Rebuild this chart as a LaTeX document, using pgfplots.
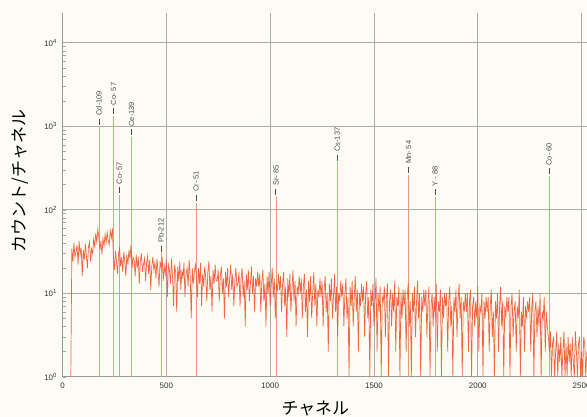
\documentclass[border=0pt]{standalone}
\usepackage{fontspec}
\setmainfont{Liberation Sans}
\newfontfamily\jp{Noto Sans CJK JP}
\usepackage{pgfplots}
\usepackage{pgfplotstable}
\pgfplotsset{compat=1.18}

\definecolor{paper}{HTML}{FCFBF4}
\definecolor{noise}{HTML}{F0552F}
\definecolor{peakc}{HTML}{E99A7C}
\definecolor{gridc}{HTML}{ABABAB}

% peak positions (channel), peak height (counts/channel), nuclide
\pgfplotstableread[col sep=comma]{
x,y,lab
176,1000,Cd-109
246,1330,Co- 57
273,150,Co- 57
333,740,Ce-139
474,30,Pb-212
643,122,Cr- 51
1028,145,Sr- 85
1324,369,Cs-137
1667,263,Mn- 54
1794,142,Y - 88
2343,252,Co- 60
}\peaks

% continuum, one value every 5 channels from channel 40
\pgfplotstableread[row sep=\\]{
c\\ 1\\
34\\ 24\\ 40\\ 27\\ 31\\ 38\\ 22\\ 42\\ 29\\ 35\\ 16\\ 33\\ 25\\ 39\\ 28\\ 20\\ 36\\ 41\\ 24\\ 34\\
30\\ 44\\ 36\\ 52\\ 41\\ 58\\ 47\\ 33\\ 42\\ 29\\ 45\\ 37\\ 50\\ 40\\ 54\\ 43\\ 38\\ 56\\ 46\\ 60\\
28\\ 19\\ 32\\ 24\\ 17\\ 30\\ 35\\ 21\\ 27\\ 18\\ 31\\ 24\\ 16\\ 29\\ 22\\ 33\\ 26\\ 38\\ 20\\ 27\\
25\\ 16\\ 29\\ 20\\ 27\\ 13\\ 24\\ 30\\ 18\\ 22\\ 26\\ 14\\ 23\\ 28\\ 17\\ 25\\ 11\\ 21\\ 27\\ 19\\
23\\ 15\\ 26\\ 18\\ 12\\ 24\\ 20\\ 27\\ 14\\ 21\\ 17\\ 25\\ 9\\ 22\\ 19\\ 13\\ 26\\ 16\\ 7\\ 22\\
18\\ 6\\ 21\\ 14\\ 24\\ 11\\ 19\\ 15\\ 23\\ 9\\ 17\\ 20\\ 12\\ 25\\ 16\\ 5\\ 20\\ 13\\ 18\\ 22\\
16\\ 9\\ 20\\ 13\\ 23\\ 7\\ 17\\ 12\\ 21\\ 15\\ 8\\ 18\\ 24\\ 11\\ 16\\ 6\\ 19\\ 13\\ 22\\ 14\\
14\\ 19\\ 8\\ 16\\ 21\\ 10\\ 15\\ 5\\ 18\\ 12\\ 20\\ 9\\ 15\\ 22\\ 11\\ 17\\ 7\\ 14\\ 20\\ 12\\
13\\ 18\\ 7\\ 15\\ 20\\ 9\\ 14\\ 4\\ 17\\ 11\\ 19\\ 8\\ 13\\ 21\\ 10\\ 16\\ 6\\ 15\\ 12\\ 18\\
12\\ 17\\ 6\\ 14\\ 19\\ 8\\ 13\\ 4\\ 16\\ 10\\ 18\\ 7\\ 12\\ 20\\ 9\\ 15\\ 5\\ 13\\ 11\\ 17\\
11\\ 16\\ 6\\ 13\\ 18\\ 7\\ 12\\ 3\\ 15\\ 9\\ 17\\ 6\\ 11\\ 19\\ 8\\ 14\\ 4\\ 12\\ 10\\ 16\\
10\\ 15\\ 5\\ 12\\ 17\\ 6\\ 11\\ 3\\ 14\\ 8\\ 16\\ 5\\ 10\\ 18\\ 7\\ 13\\ 4\\ 11\\ 9\\ 15\\
9\\ 14\\ 4\\ 11\\ 16\\ 6\\ 10\\ 2\\ 13\\ 8\\ 15\\ 5\\ 9\\ 17\\ 6\\ 12\\ 3\\ 10\\ 8\\ 14\\
9\\ 13\\ 4\\ 10\\ 15\\ 5\\ 9\\ 1\\ 12\\ 7\\ 14\\ 4\\ 9\\ 16\\ 6\\ 11\\ 2\\ 10\\ 7\\ 13\\
8\\ 12\\ 3\\ 10\\ 14\\ 5\\ 9\\ 1\\ 11\\ 7\\ 13\\ 4\\ 8\\ 15\\ 2\\ 10\\ 6\\ 12\\ 1\\ 9\\
8\\ 12\\ 3\\ 9\\ 13\\ 1\\ 8\\ 11\\ 4\\ 10\\ 6\\ 14\\ 2\\ 9\\ 7\\ 12\\ 1\\ 10\\ 5\\ 11\\
7\\ 11\\ 2\\ 9\\ 13\\ 4\\ 8\\ 1\\ 10\\ 6\\ 12\\ 3\\ 8\\ 14\\ 5\\ 10\\ 1\\ 9\\ 6\\ 11\\
7\\ 11\\ 3\\ 8\\ 12\\ 1\\ 7\\ 10\\ 4\\ 9\\ 5\\ 13\\ 2\\ 8\\ 6\\ 11\\ 1\\ 9\\ 5\\ 10\\
7\\ 10\\ 2\\ 8\\ 12\\ 4\\ 7\\ 1\\ 9\\ 6\\ 11\\ 3\\ 8\\ 13\\ 5\\ 9\\ 1\\ 8\\ 6\\ 10\\
6\\ 10\\ 2\\ 8\\ 11\\ 1\\ 7\\ 9\\ 4\\ 8\\ 5\\ 12\\ 2\\ 7\\ 6\\ 10\\ 1\\ 8\\ 5\\ 9\\
6\\ 9\\ 2\\ 7\\ 11\\ 3\\ 6\\ 1\\ 8\\ 5\\ 10\\ 2\\ 7\\ 12\\ 4\\ 8\\ 1\\ 7\\ 5\\ 9\\
6\\ 9\\ 1\\ 7\\ 10\\ 3\\ 6\\ 8\\ 2\\ 7\\ 5\\ 11\\ 1\\ 6\\ 4\\ 9\\ 2\\ 7\\ 5\\ 8\\
6\\ 9\\ 2\\ 7\\ 10\\ 1\\ 6\\ 8\\ 3\\ 7\\ 4\\ 10\\ 1\\ 6\\ 5\\ 9\\ 2\\ 6\\ 4\\ 3\\
2\\ 3.5\\ 1\\ 2.5\\ 3\\ 1\\ 2\\ 3.5\\ 1\\ 2.5\\ 1.5\\ 3\\ 1\\ 2\\ 3.5\\ 1\\ 2.5\\ 1\\ 3\\ 1.5\\
2.5\\ 1\\ 3\\ 1.5\\ 1\\ 3.5\\ 2\\ 1\\ 2.5\\ 3\\ 1\\ 2\\ 1\\ 3\\ 2.5\\ 1\\ 2\\
}\spectrum

\begin{document}
\begin{tikzpicture}
\useasboundingbox (-62.5bp,-40.3bp) rectangle (524.5bp,376.7bp);
\fill[paper] (-62.5bp,-40.3bp) rectangle (524.5bp,376.7bp);
\clip (-62.5bp,-40.3bp) rectangle (524.5bp,376.7bp);
\begin{axis}[
  scale only axis,
  width=524.5bp, height=363.7bp,
  xmin=0, xmax=2526,
  ymode=log, ymin=1, ymax=22700,
  axis x line*=bottom, axis y line*=left,
  axis line style={-, draw=gray!80, line width=0.6bp},
  xtick={0,500,1000,1500,2000,2500},
  xticklabels={0,500,1000,1500,2000,2500},
  ytick={1,10,100,1000,10000},
  yticklabels={10\textsuperscript{0},10\textsuperscript{1},10\textsuperscript{2},10\textsuperscript{3},10\textsuperscript{4}},
  tick label style={font=\fontsize{8}{9}\selectfont, text=black!80},
  xticklabel style={yshift=-3bp},
  yticklabel style={xshift=-2bp},
  tick align=inside,
  major tick length=0bp,
  minor tick length=3bp,
  minor tick style={gray!70, line width=0.4bp},
  grid=major,
  major grid style={gridc, line width=0.6bp},
  xlabel={\jp チャネル},
  ylabel={\jp カウント/チャネル},
  every axis x label/.style={at={(axis description cs:0.482,-0.086)}, anchor=center, font=\fontsize{17}{19}\selectfont},
  every axis y label/.style={at={(axis description cs:-0.081,0.538)}, anchor=center, rotate=90, font=\fontsize{17}{19}\selectfont},
  clip=true,
]
\addplot[ycomb, peakc, line width=0.8bp] table[x=x, y=y] {\peaks};
\addplot[noise, line width=0.7bp, opacity=0.9] table[x expr=40+5*\coordindex, y=c] {\spectrum};
\addplot[draw=none, point meta=explicit symbolic,
  nodes near coords={\color{black!70}\rule[0.33em]{6bp}{0.6bp}\hspace{3bp}\pgfplotspointmeta},
  every node near coord/.append style={rotate=90, anchor=west, inner sep=1.5bp,
    font=\fontsize{7.5}{8}\selectfont, text=black!85}]
  table[x=x, y=y, meta=lab] {\peaks};
\end{axis}
\end{tikzpicture}
\end{document}
